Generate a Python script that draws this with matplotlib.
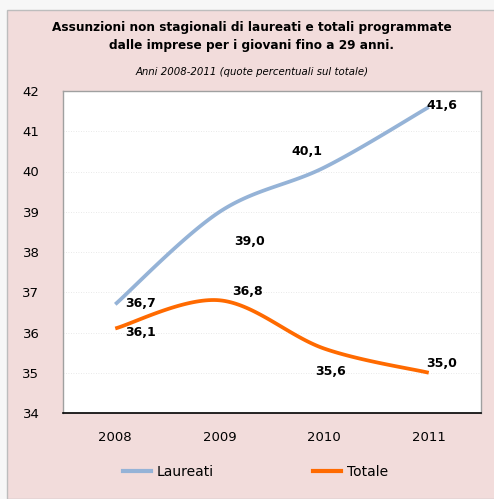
import numpy as np
import matplotlib
matplotlib.use("Agg")
import matplotlib.pyplot as plt
from matplotlib.patches import Rectangle
from matplotlib.lines import Line2D

years = ["2008", "2009", "2010", "2011"]
laureati = [36.7, 39.0, 40.1, 41.6]
totale = [36.1, 36.8, 35.6, 35.0]
lab_laureati = ["36,7", "39,0", "40,1", "41,6"]
lab_totale = ["36,1", "36,8", "35,6", "35,0"]
yticks = [34, 35, 36, 37, 38, 39, 40, 41, 42]

C_LAU = "#95B3D7"
C_TOT = "#FF6A00"
BG = "#F2DCDB"


def smooth(xs, ys, n=40):
    p = np.column_stack([xs, ys]).astype(float)
    m = len(p)
    out = []
    for i in range(m - 1):
        p0 = p[i - 1] if i > 0 else p[i]
        p1 = p[i]
        p2 = p[i + 1]
        p3 = p[i + 2] if i + 2 < m else p[i + 1]
        c1 = p1 + (p2 - p0) / 6.0
        c2 = p2 - (p3 - p1) / 6.0
        t = np.linspace(0, 1, n)[:, None]
        seg = ((1 - t) ** 3) * p1 + 3 * ((1 - t) ** 2) * t * c1 + 3 * (1 - t) * t ** 2 * c2 + t ** 3 * p2
        out.append(seg if i == 0 else seg[1:])
    s = np.vstack(out)
    return s[:, 0], s[:, 1]


fig = plt.figure(figsize=(4.94, 4.99), dpi=100, facecolor="#F7F7F7")
bgrect = Rectangle((7 / 494, 0), 1, 1 - 10 / 499, transform=fig.transFigure,
                   facecolor=BG, edgecolor="#BDBDBD", linewidth=1.0, zorder=-10)
fig.patches.append(bgrect)

ax = fig.add_axes([63 / 494, 1 - 413 / 499, (481 - 63) / 494, (413 - 91) / 499], zorder=5)
ax.set_facecolor("white")
x = np.arange(len(years))

xs, ys = smooth(x, laureati)
ax.plot(xs, ys, color=C_LAU, linewidth=2.7, solid_capstyle="butt")
xs, ys = smooth(x, totale)
ax.plot(xs, ys, color=C_TOT, linewidth=2.7, solid_capstyle="butt")

ax.set_xlim(-0.5, 3.5)
ax.set_ylim(34, 42)
ax.set_yticks(yticks)
ax.set_yticklabels([str(v) for v in yticks])
ax.set_xticks(x)
ax.set_xticklabels(years)
ax.tick_params(axis="y", length=0, pad=17, labelsize=9.5)
ax.tick_params(axis="x", length=0, pad=13, labelsize=9.5)
ax.grid(axis="y", color="#E2E2E2", linestyle=(0, (1, 2)), linewidth=0.6)
ax.set_axisbelow(True)
for s in ["left", "top", "right"]:
    ax.spines[s].set_color("#A0A0A0")
    ax.spines[s].set_linewidth(1.0)
ax.spines["bottom"].set_color("black")
ax.spines["bottom"].set_linewidth(1.2)

off_l = [(25, 1), (30, -30), (-17, 16), (13, 2)]
off_t = [(25, -4), (28, 9), (6, -23), (13, 9)]
for i in range(4):
    ax.annotate(lab_laureati[i], (x[i], laureati[i]), xytext=off_l[i], textcoords="offset pixels",
                ha="center", va="center", fontsize=9, fontweight="bold")
    ax.annotate(lab_totale[i], (x[i], totale[i]), xytext=off_t[i], textcoords="offset pixels",
                ha="center", va="center", fontsize=9, fontweight="bold")

fig.text(0.51, 1 - 27 / 499, "Assunzioni non stagionali di laureati e totali programmate",
         ha="center", va="center", fontsize=8.7, fontweight="bold")
fig.text(0.51, 1 - 46 / 499, "dalle imprese per i giovani fino a 29 anni.",
         ha="center", va="center", fontsize=8.7, fontweight="bold")
fig.text(0.51, 1 - 72 / 499, "Anni 2008-2011 (quote percentuali sul totale)",
         ha="center", va="center", fontsize=7.3, style="italic")

handles = [Line2D([], [], color=C_LAU, linewidth=3), Line2D([], [], color=C_TOT, linewidth=3)]
fig.legend(handles, ["Laureati", "Totale"], loc="center", bbox_to_anchor=(0.517, 1 - 472 / 499),
           ncol=2, frameon=False, fontsize=10, handlelength=2.0, handletextpad=0.4,
           columnspacing=7.2)

fig.savefig("out.png", dpi=100, facecolor=fig.get_facecolor())
